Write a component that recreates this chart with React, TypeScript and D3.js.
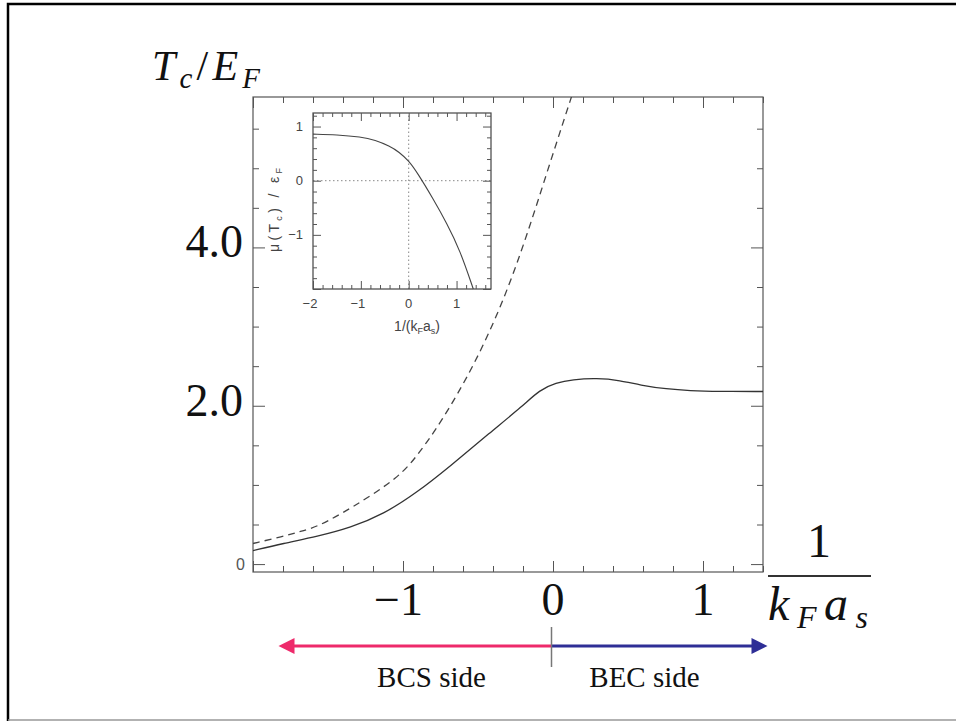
import React, { useEffect, useRef } from "react";
import * as d3 from "d3";

// main panel: Tc/EF against 1/(kF as)
const solidX = [-2.0, -1.8, -1.57, -1.35, -1.13, -0.91, -0.69, -0.42, -0.2, -0.09, 0.02, 0.13, 0.29, 0.45, 0.58, 0.76, 0.91, 1.1, 1.4];
const solidY = [0.17, 0.26, 0.35, 0.46, 0.63, 0.9, 1.23, 1.66, 2.0, 2.2, 2.29, 2.33, 2.35, 2.32, 2.26, 2.21, 2.19, 2.18, 2.18];
const dashedX = [-2.0, -1.8, -1.69, -1.57, -1.35, -1.02, -0.89, -0.75, -0.53, -0.33, -0.17, -0.02, 0.14];
const dashedY = [0.26, 0.35, 0.41, 0.47, 0.7, 1.1, 1.41, 1.78, 2.49, 3.32, 4.17, 5.07, 6.0];
const xTickVals = [-1, 0, 1];
const xTickText = ["−1", "0", "1"];
const yTickVals = [2, 4];
const yTickText = ["2.0", "4.0"];

// inset: mu(Tc)/eF
const insetX = [-2.0, -1.5, -1.0, -0.7, -0.4, -0.2, 0, 0.2, 0.5, 0.8, 1.07, 1.35];
const insetY = [0.86, 0.85, 0.81, 0.75, 0.64, 0.53, 0.37, 0.12, -0.32, -0.79, -1.28, -2.0];
const insetXTicks = [-2, -1, 0, 1];
const insetXText = ["−2", "−1", "0", "1"];
const insetYTicks = [-1, 0, 1];
const insetYText = ["−1", "0", "1"];

const sideText = ["BCS side", "BEC side"];

const serif = "'Liberation Serif', 'DejaVu Serif', serif";
const sans = "'Liberation Sans', 'DejaVu Sans', sans-serif";
const axisCol = "#555";

const fix = (a: number[]) => a.map((v) => Math.round(v * 100) / 100);

function tickSet(g: any, axis: any, vals: number[], size: number, tr: string, w = 1) {
  g.append("g")
    .attr("transform", tr)
    .call(axis.tickValues(vals).tickSize(size).tickFormat(() => ""))
    .call((s: any) => s.select(".domain").remove())
    .selectAll("line")
    .attr("stroke", axisCol)
    .attr("stroke-width", w);
}

export default function App() {
  const ref = useRef<SVGSVGElement>(null);

  useEffect(() => {
    const svg = d3.select(ref.current);
    svg.selectAll("*").remove();

    // slide border
    svg.append("path").attr("d", "M8,721 L8,4 L960,4").attr("fill", "none").attr("stroke", "#000").attr("stroke-width", 2.5);
    svg.append("line").attr("x1", 8).attr("x2", 956).attr("y1", 720).attr("y2", 720).attr("stroke", "#999").attr("stroke-width", 1.5);

    const x = d3.scaleLinear().domain([-2, 1.4]).range([253, 763]);
    const y = d3.scaleLinear().domain([-0.1, 5.9]).range([572, 97]);
    const [x0, x1] = x.range();
    const [y0, y1] = y.range();

    svg.append("clipPath").attr("id", "mainclip")
      .append("rect").attr("x", x0).attr("y", y1).attr("width", x1 - x0).attr("height", y0 - y1);

    svg.append("rect").attr("x", x0).attr("y", y1).attr("width", x1 - x0).attr("height", y0 - y1)
      .attr("fill", "none").attr("stroke", axisCol).attr("stroke-width", 1.2);

    const xMinor = fix(d3.range(-2, 1.41, 0.2)).filter((v) => !Number.isInteger(v));
    const xMajor = [-2, -1, 0, 1];
    const yMinor = fix(d3.range(0.5, 5.9, 0.5)).filter((v) => v % 2 !== 0);
    const yMajor = [0, 2, 4];

    tickSet(svg, d3.axisBottom(x), xMinor, -6, `translate(0,${y0})`);
    tickSet(svg, d3.axisBottom(x), xMajor, -11, `translate(0,${y0})`);
    tickSet(svg, d3.axisTop(x), xMinor, -6, `translate(0,${y1})`);
    tickSet(svg, d3.axisTop(x), xMajor, -11, `translate(0,${y1})`);
    tickSet(svg, d3.axisLeft(y), yMinor, -6, `translate(${x0},0)`);
    tickSet(svg, d3.axisLeft(y), yMajor, -12, `translate(${x0},0)`);
    tickSet(svg, d3.axisRight(y), yMinor, -6, `translate(${x1},0)`);
    tickSet(svg, d3.axisRight(y), yMajor, -12, `translate(${x1},0)`);

    const line = d3.line<number>().curve(d3.curveBasis);

    svg.append("path")
      .attr("d", line(solidX.map((v, i) => [x(v), y(solidY[i])]) as any))
      .attr("fill", "none").attr("stroke", "#333").attr("stroke-width", 1.3)
      .attr("clip-path", "url(#mainclip)");

    svg.append("path")
      .attr("d", line(dashedX.map((v, i) => [x(v), y(dashedY[i])]) as any))
      .attr("fill", "none").attr("stroke", "#444").attr("stroke-width", 1.3)
      .attr("stroke-dasharray", "7,5")
      .attr("clip-path", "url(#mainclip)");

    // small "0" from the scanned plot
    svg.append("text").attr("x", x0 - 8).attr("y", y(0) + 6).attr("text-anchor", "end")
      .attr("font-family", sans).attr("font-size", 16).attr("fill", "#555").text("0");

    // big overlay tick labels
    svg.selectAll(".ylab").data(yTickVals).enter().append("text")
      .attr("x", x0 - 10).attr("y", (d) => y(d) + 10).attr("text-anchor", "end")
      .attr("font-family", serif).attr("font-size", 46).attr("fill", "#111")
      .text((d, i) => yTickText[i]);

    svg.selectAll(".xlab").data(xTickVals).enter().append("text")
      .attr("x", (d) => (d < 0 ? x(d) + 20 : x(d)))
      .attr("y", y0 + 43)
      .attr("text-anchor", (d) => (d < 0 ? "end" : "middle"))
      .attr("font-family", serif).attr("font-size", 46).attr("fill", "#111")
      .text((d, i) => xTickText[i]);

    // Tc/EF
    const tl = svg.append("text").attr("x", 152).attr("y", 80).attr("font-family", serif)
      .attr("font-size", 42).attr("font-style", "italic").attr("fill", "#111")
      .attr("textLength", 108).attr("lengthAdjust", "spacing");
    tl.append("tspan").text("T");
    tl.append("tspan").attr("font-size", 29).attr("dy", 8).text("c");
    tl.append("tspan").attr("font-style", "normal").attr("dy", -8).text("/");
    tl.append("tspan").text("E");
    tl.append("tspan").attr("font-size", 29).attr("dy", 8).text("F");

    // 1/(kF as)
    svg.append("text").attr("x", 819).attr("y", 557).attr("text-anchor", "middle")
      .attr("font-family", serif).attr("font-size", 48).attr("fill", "#111").text("1");
    svg.append("line").attr("x1", 768).attr("x2", 871).attr("y1", 576).attr("y2", 576)
      .attr("stroke", "#333").attr("stroke-width", 2);
    const dl = svg.append("text").attr("x", 768).attr("y", 620).attr("font-family", serif)
      .attr("font-size", 48).attr("font-style", "italic").attr("fill", "#111")
      .attr("textLength", 100).attr("lengthAdjust", "spacing");
    dl.append("tspan").text("k");
    dl.append("tspan").attr("font-size", 32).attr("dy", 8).text("F");
    dl.append("tspan").attr("dy", -8).text("a");
    dl.append("tspan").attr("font-size", 32).attr("dy", 8).text("s");

    // BCS / BEC arrows
    const ay = 646;
    const xd = x(0) - 1.5;
    const leftTip = x(-1.83);
    const rightTip = x(1.43);
    svg.append("line").attr("x1", xd).attr("x2", leftTip + 14).attr("y1", ay).attr("y2", ay)
      .attr("stroke", "#ee2a6b").attr("stroke-width", 3);
    svg.append("path").attr("d", `M${leftTip},${ay} L${leftTip + 16},${ay - 8} L${leftTip + 16},${ay + 8} Z`).attr("fill", "#ee2a6b");
    svg.append("line").attr("x1", xd).attr("x2", rightTip - 14).attr("y1", ay).attr("y2", ay)
      .attr("stroke", "#2e2e96").attr("stroke-width", 3);
    svg.append("path").attr("d", `M${rightTip},${ay} L${rightTip - 16},${ay - 8} L${rightTip - 16},${ay + 8} Z`).attr("fill", "#2e2e96");
    svg.append("line").attr("x1", xd).attr("x2", xd).attr("y1", 627).attr("y2", 667)
      .attr("stroke", "#777").attr("stroke-width", 1.5);
    svg.selectAll(".side").data(sideText).enter().append("text")
      .attr("x", (d, i) => (i === 0 ? x(-0.81) : x(0.61)))
      .attr("y", 687).attr("text-anchor", "middle")
      .attr("font-family", serif).attr("font-size", 29).attr("fill", "#111")
      .text((d) => d);

    // inset
    const xi = d3.scaleLinear().domain([-2, 1.72]).range([313, 491]);
    const yi = d3.scaleLinear().domain([-2, 1.25]).range([289, 113]);
    const [ix0, ix1] = xi.range();
    const [iy0, iy1] = yi.range();

    svg.append("line").attr("x1", xi(0)).attr("x2", xi(0)).attr("y1", iy0).attr("y2", iy1)
      .attr("stroke", "#888").attr("stroke-width", 1).attr("stroke-dasharray", "1.5,2.5");
    svg.append("line").attr("x1", ix0).attr("x2", ix1).attr("y1", yi(0)).attr("y2", yi(0))
      .attr("stroke", "#888").attr("stroke-width", 1).attr("stroke-dasharray", "1.5,2.5");

    svg.append("rect").attr("x", ix0).attr("y", iy1).attr("width", ix1 - ix0).attr("height", iy0 - iy1)
      .attr("fill", "none").attr("stroke", "#444").attr("stroke-width", 1.2);

    const ixMinor = fix(d3.range(-2, 1.71, 0.2)).filter((v) => !Number.isInteger(v));
    const iyMinor = fix(d3.range(-2, 1.21, 0.2)).filter((v) => !Number.isInteger(v));
    const iyMajor = [-2, -1, 0, 1];
    tickSet(svg, d3.axisBottom(xi), ixMinor, -4, `translate(0,${iy0})`);
    tickSet(svg, d3.axisBottom(xi), insetXTicks, -8, `translate(0,${iy0})`);
    tickSet(svg, d3.axisTop(xi), ixMinor, -4, `translate(0,${iy1})`);
    tickSet(svg, d3.axisTop(xi), insetXTicks, -8, `translate(0,${iy1})`);
    tickSet(svg, d3.axisLeft(yi), iyMinor, -4, `translate(${ix0},0)`);
    tickSet(svg, d3.axisLeft(yi), iyMajor, -8, `translate(${ix0},0)`);
    tickSet(svg, d3.axisRight(yi), iyMinor, -4, `translate(${ix1},0)`);
    tickSet(svg, d3.axisRight(yi), iyMajor, -8, `translate(${ix1},0)`);

    svg.append("path")
      .attr("d", line(insetX.map((v, i) => [xi(v), yi(insetY[i])]) as any))
      .attr("fill", "none").attr("stroke", "#444").attr("stroke-width", 1.1);

    svg.selectAll(".ixl").data(insetXTicks).enter().append("text")
      .attr("x", (d) => (d < 0 ? xi(d) - 3 : xi(d))).attr("y", iy0 + 19).attr("text-anchor", "middle")
      .attr("font-family", sans).attr("font-size", 13).attr("fill", "#444")
      .text((d, i) => insetXText[i]);
    svg.selectAll(".iyl").data(insetYTicks).enter().append("text")
      .attr("x", ix0 - 10).attr("y", (d) => yi(d) + 4.5).attr("text-anchor", "end")
      .attr("font-family", sans).attr("font-size", 13).attr("fill", "#444")
      .text((d, i) => insetYText[i]);

    const ixl = svg.append("text").attr("x", 417).attr("y", 331).attr("text-anchor", "middle")
      .attr("font-family", sans).attr("font-size", 14).attr("fill", "#444");
    ixl.append("tspan").text("1/(k");
    ixl.append("tspan").attr("font-size", 9).attr("dy", 3).text("F");
    ixl.append("tspan").attr("dy", -3).text("a");
    ixl.append("tspan").attr("font-size", 9).attr("dy", 3).text("s");
    ixl.append("tspan").attr("dy", -3).text(")");

    const iyl = svg.append("text").attr("transform", "translate(279,210) rotate(-90)")
      .attr("text-anchor", "middle").attr("font-family", sans).attr("font-size", 14).attr("fill", "#444")
      .attr("textLength", 84).attr("lengthAdjust", "spacing");
    iyl.append("tspan").text("μ(T");
    iyl.append("tspan").attr("font-size", 9).attr("dy", 3).text("c");
    iyl.append("tspan").attr("dy", -3).text(") / ε");
    iyl.append("tspan").attr("font-size", 9).attr("dy", 3).text("F");
  }, []);

  return (
    <svg
      ref={ref}
      width={956}
      height={721}
      style={{ position: "absolute", left: 0, top: 0, background: "#fff" }}
    />
  );
}
